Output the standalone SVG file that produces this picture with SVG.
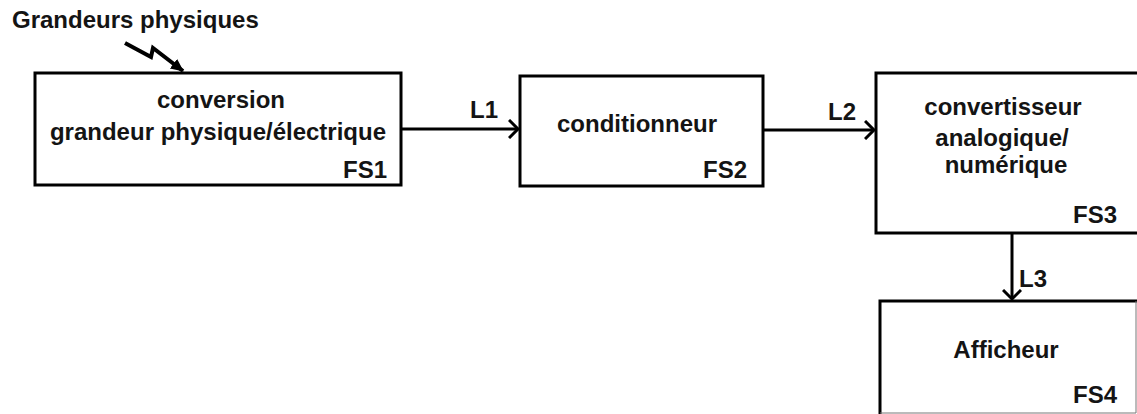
<svg xmlns="http://www.w3.org/2000/svg" width="1137" height="414" viewBox="0 0 1137 414">
<style>
.box{fill:#fff;stroke:#000;stroke-width:3}
.t{font-family:"Liberation Sans",Arial,sans-serif;font-weight:bold;font-size:24px;fill:#141414}
.m{text-anchor:middle}
.e{text-anchor:end}
.c{fill:none;stroke:#000;stroke-width:3}
</style>
<defs>
<marker id="ah" markerUnits="userSpaceOnUse" markerWidth="20" markerHeight="20" refX="10" refY="10" orient="auto">
<path d="M1,1 L10,10 L1,19" fill="none" stroke="#000" stroke-width="3"/>
</marker>
<marker id="fh" markerUnits="userSpaceOnUse" markerWidth="16" markerHeight="16" refX="12" refY="8" orient="auto">
<path d="M0,2 L13,8 L0,14 Z" fill="#000"/>
</marker>
</defs>
<rect width="1137" height="414" fill="#fff"/>
<text class="t" x="12" y="28">Grandeurs physiques</text>
<g id="fs1">
<rect class="box" x="35" y="73" width="366" height="112"/>
<text class="t m" x="221" y="108">conversion</text>
<text class="t m" x="218" y="140">grandeur physique/électrique</text>
<text class="t e" x="387" y="178">FS1</text>
</g>
<g id="fs2">
<rect class="box" x="520" y="76" width="243" height="110"/>
<text class="t m" x="637" y="132">conditionneur</text>
<text class="t e" x="747" y="178">FS2</text>
</g>
<g id="fs3">
<rect class="box" x="876" y="73" width="280" height="160"/>
<text class="t m" x="1003" y="115">convertisseur</text>
<text class="t m" x="1002" y="146">analogique/</text>
<text class="t m" x="1006" y="173">numérique</text>
<text class="t e" x="1117" y="223">FS3</text>
</g>
<g id="fs4">
<rect class="box" x="880" y="301" width="280" height="130"/>
<path d="M1136,301 V413 H880" fill="none" stroke="#777" stroke-width="1"/>
<text class="t m" x="1006" y="358">Afficheur</text>
<text class="t e" x="1117" y="403">FS4</text>
</g>
<g id="connectors">
<polyline points="125,43 151,57 153,48 183,71" fill="none" stroke="#000" stroke-width="4" stroke-linejoin="miter" marker-end="url(#fh)"/>
<line class="c" x1="402" y1="129" x2="518" y2="129" marker-end="url(#ah)"/>
<text class="t" x="470" y="118">L1</text>
<line class="c" x1="764" y1="130" x2="874" y2="130" marker-end="url(#ah)"/>
<text class="t" x="828" y="120">L2</text>
<line class="c" x1="1012" y1="234" x2="1012" y2="299" marker-end="url(#ah)"/>
<text class="t" x="1019" y="287">L3</text>
</g>
</svg>
